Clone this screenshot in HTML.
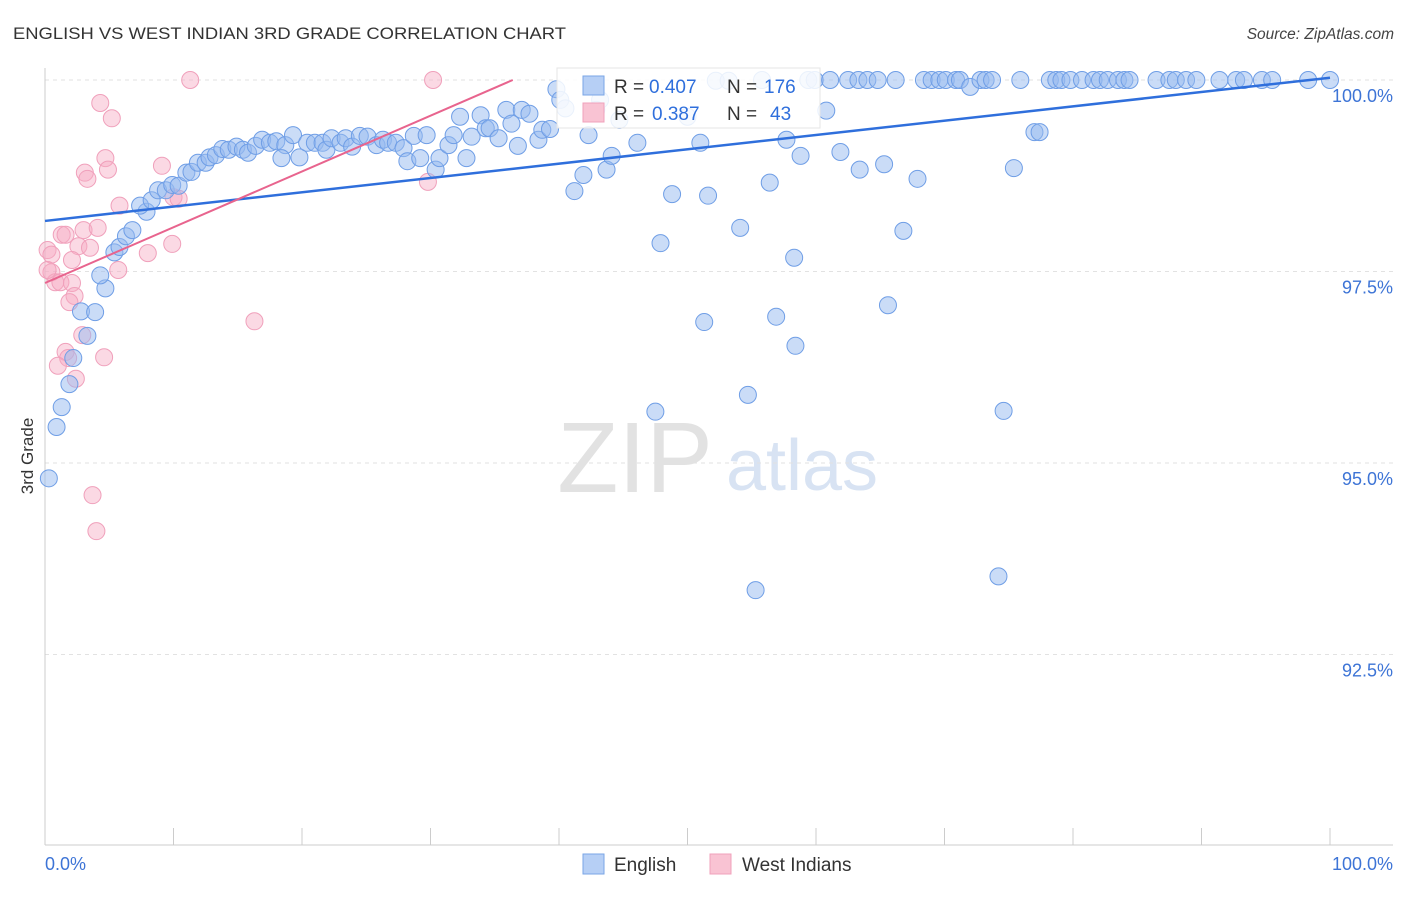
<!DOCTYPE html>
<html><head><meta charset="utf-8"><style>
body{margin:0;background:#fff;font-family:"Liberation Sans",sans-serif}
svg text{font-family:"Liberation Sans",sans-serif}
</style></head><body>
<svg id="chart" width="1406" height="892" xmlns="http://www.w3.org/2000/svg">
<text x="13" y="39" font-size="17" fill="#333" textLength="553" lengthAdjust="spacingAndGlyphs">ENGLISH VS WEST INDIAN 3RD GRADE CORRELATION CHART</text>
<text x="1394" y="39" font-size="15.5" fill="#444" text-anchor="end" font-style="italic">Source: ZipAtlas.com</text>
<text transform="translate(33,456) rotate(-90)" font-size="17" fill="#333" text-anchor="middle">3rd Grade</text>
<g>
<text x="635" y="492" font-size="100" fill="#e2e2e2" text-anchor="middle" font-family="Liberation Serif, serif">ZIP</text>
<text x="802" y="490" font-size="72" fill="#d8e3f3" text-anchor="middle">atlas</text>
</g>
<g id="grid"></g><g id="axes"></g><g id="pinkpts"></g><g id="bluepts"></g><g id="trends"></g>
<g>
<rect x="557" y="68" width="263" height="60" fill="#fff" fill-opacity="0.85" stroke="#e5e5e5"/>
<rect x="583" y="76" width="21" height="19" fill="#b6cff5" stroke="#7aa6e6"/>
<text font-size="19" fill="#333"><tspan x="614" y="93">R =</tspan><tspan x="649" y="93" fill="#2f6fdc">0.407</tspan><tspan x="727" y="93">N =</tspan><tspan x="764" y="93" fill="#2f6fdc">176</tspan></text>
<rect x="583" y="103" width="21" height="19" fill="#f9c3d3" stroke="#f0a0bb"/>
<text font-size="19" fill="#333"><tspan x="614" y="120">R =</tspan><tspan x="652" y="120" fill="#2f6fdc">0.387</tspan><tspan x="727" y="120">N =</tspan><tspan x="770" y="120" fill="#2f6fdc">43</tspan></text>
</g>
<g>
<rect x="583" y="854" width="21" height="20" fill="#b6cff5" stroke="#7aa6e6"/>
<text x="614" y="871" font-size="19" fill="#333">English</text>
<rect x="710" y="854" width="21" height="20" fill="#f9c3d3" stroke="#f0a0bb"/>
<text x="742" y="871" font-size="19" fill="#333">West Indians</text>
</g>
</svg>
<script>
const yTicks=[100,97.5,95,92.5];
const yTickLabels=["100.0%","97.5%","95.0%","92.5%"];
const xTickVals=[0,10,20,30,40,50,60,70,80,90,100];
const xEndLabels=["0.0%","100.0%"];
const englishX=[0.3,0.9,1.3,1.9,2.2,3.3,2.8,3.9,4.7,4.3,5.4,5.8,6.3,6.8,7.9,7.4,8.3,8.8,9.4,9.9,10.4,11.0,11.4,11.9,12.5,12.8,13.3,13.8,14.3,14.9,15.4,15.8,16.4,16.9,17.5,18.0,18.7,18.4,19.3,19.8,20.4,21.0,21.6,21.9,22.3,23.0,23.4,23.9,24.5,25.1,25.8,26.3,26.7,27.3,27.9,28.2,28.7,29.2,29.7,30.4,30.7,31.4,31.8,32.3,32.8,33.2,33.9,34.3,34.6,35.3,35.9,36.3,36.8,37.1,37.7,38.4,38.7,39.3,39.8,40.1,40.5,41.2,41.9,42.3,42.9,43.2,43.7,44.1,44.7,46.1,47.9,48.8,50.0,51.0,51.3,51.6,52.2,53.2,54.1,54.7,55.3,55.8,56.4,56.9,57.7,58.3,58.4,58.8,59.4,59.9,60.8,61.1,61.9,62.5,63.3,63.4,64.0,64.8,65.3,65.6,66.2,66.8,67.9,68.4,69.0,69.6,70.1,70.9,71.2,72.0,72.8,73.2,73.7,74.2,74.6,75.4,75.9,77.0,77.4,78.2,78.7,79.1,79.8,80.7,81.6,82.1,82.7,83.5,84.0,84.4,86.5,87.5,88.0,88.8,89.6,91.4,92.7,93.3,94.7,95.5,98.3,100,47.5];
const englishY=[94.80,95.47,95.73,96.03,96.37,96.66,96.98,96.97,97.28,97.45,97.75,97.82,97.96,98.04,98.28,98.36,98.43,98.56,98.56,98.63,98.62,98.79,98.80,98.92,98.92,98.99,99.02,99.10,99.09,99.13,99.09,99.05,99.14,99.22,99.18,99.20,99.15,98.98,99.28,98.99,99.18,99.18,99.18,99.09,99.24,99.18,99.24,99.13,99.27,99.26,99.15,99.22,99.18,99.18,99.11,98.94,99.27,98.98,99.28,98.83,98.98,99.15,99.28,99.52,98.98,99.26,99.54,99.37,99.37,99.24,99.61,99.43,99.14,99.61,99.56,99.22,99.35,99.36,99.88,99.74,99.63,98.55,98.76,99.28,99.61,99.74,98.83,99.01,99.48,99.18,97.87,98.51,99.52,99.18,96.84,98.49,99.99,99.99,98.07,95.89,93.34,100,98.66,96.91,99.22,97.68,96.53,99.01,100,100,99.60,100,99.06,100,100,98.83,100,100,98.90,97.06,100,98.03,98.71,100,100,100,100,100,100,99.91,100,100,100,93.52,95.68,98.85,100,99.32,99.32,100,100,100,100,100,100,100,100,100,100,100,100,100,100,100,100,100,100,100,100,100,100,100,95.67];
const westX=[11.3,30.2,4.3,5.2,4.7,4.9,9.1,3.1,3.3,10.0,10.4,5.8,1.3,1.6,3.0,4.1,2.6,3.5,8.0,9.9,0.2,0.5,2.1,0.5,0.8,1.2,2.1,0.2,5.7,2.3,1.9,16.3,2.9,1.6,1.8,4.6,1.0,2.4,3.7,4.0,29.8];
const westY=[100,100,99.70,99.50,98.98,98.83,98.88,98.79,98.71,98.47,98.45,98.36,97.98,97.98,98.04,98.07,97.83,97.81,97.74,97.86,97.78,97.72,97.65,97.49,97.36,97.36,97.35,97.52,97.52,97.18,97.10,96.85,96.67,96.45,96.37,96.38,96.27,96.10,94.58,94.11,98.67];
const englishTrend=[98.16,100.03];
const westTrend=[97.35,100];
const westTrendEndX=36.4;

const NS="http://www.w3.org/2000/svg";
const X=v=>45+v*12.85;
const Y=v=>80+(100-v)*76.6;
function mk(tag,attrs,parent){const e=document.createElementNS(NS,tag);for(const k in attrs)e.setAttribute(k,attrs[k]);document.getElementById(parent).appendChild(e);return e;}
yTicks.forEach((t,i)=>{
 const g=mk('line',{x1:45,x2:1393,y1:Y(t),y2:Y(t),stroke:'#e2e2e2','stroke-dasharray':'4,4'},'grid');
 
 
 const l=mk('text',{x:1393,y:Y(t)+22,'font-size':18,fill:'#3d74d6','text-anchor':'end'},'axes');
 l.textContent=yTickLabels[i];
 
 
});
const ya=mk('line',{x1:45,x2:45,y1:68,y2:845,stroke:'#ccc'},'axes');


const xa=mk('line',{x1:45,x2:1393,y1:845,y2:845,stroke:'#ccc'},'axes');


xTickVals.forEach(v=>{
 const t=mk('line',{x1:X(v),x2:X(v),y1:828,y2:845,stroke:'#ccc'},'axes');
 
 
});
[[0,'start',45],[100,'end',1393]].forEach((d,i)=>{
 const t=mk('text',{x:d[2],y:870,'font-size':18,fill:'#3d74d6','text-anchor':d[1]},'axes');
 t.textContent=xEndLabels[i];
 
 
});
westX.forEach((v,i)=>{
 const c=mk('circle',{cx:X(v),cy:Y(westY[i]),r:8.5,fill:'rgba(246,170,196,0.45)',stroke:'#f0a0bb','stroke-width':1},'pinkpts');
 
 
});
englishX.forEach((v,i)=>{
 const c=mk('circle',{cx:X(v),cy:Y(englishY[i]),r:8.5,fill:'rgba(150,185,240,0.5)',stroke:'#6f9ee6','stroke-width':1},'bluepts');
 
 
});
const bt=mk('line',{x1:X(0),y1:Y(englishTrend[0]),x2:X(100),y2:Y(englishTrend[1]),stroke:'#2f6fdc','stroke-width':2.5},'trends');


const pt=mk('line',{x1:X(0),y1:Y(westTrend[0]),x2:X(westTrendEndX),y2:Y(westTrend[1]),stroke:'#e8648e','stroke-width':2},'trends');


</script>
</body></html>
